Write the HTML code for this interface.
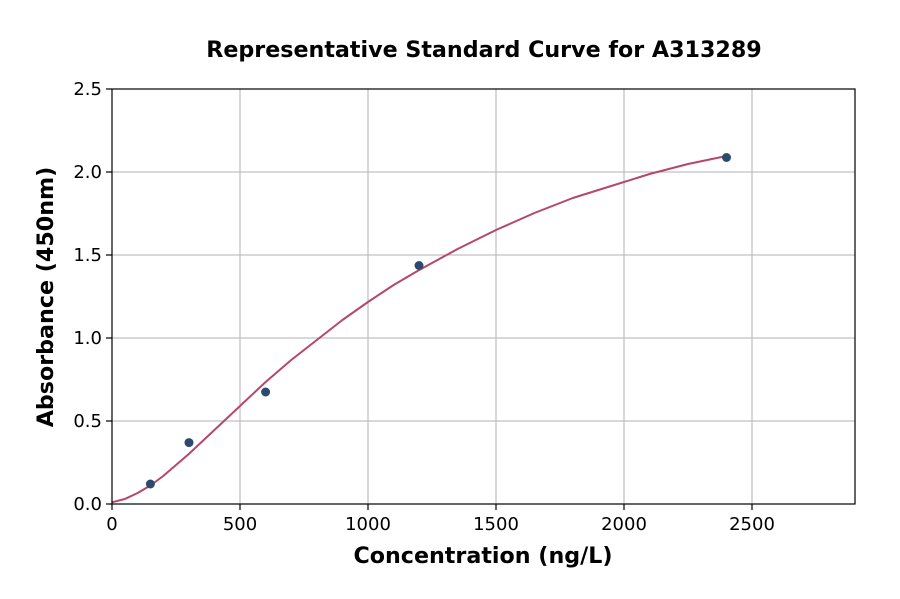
<!DOCTYPE html>
<html><head><style>body{margin:0;background:#fff}</style></head><body>
<svg width="900" height="594" xmlns="http://www.w3.org/2000/svg" font-family="DejaVu Sans, Liberation Sans, sans-serif">
<rect width="900" height="594" fill="#fff"/>
<g stroke="#b0b0b0" stroke-width="1">
<line x1="240" y1="89" x2="240" y2="504"/><line x1="368" y1="89" x2="368" y2="504"/>
<line x1="496" y1="89" x2="496" y2="504"/><line x1="624" y1="89" x2="624" y2="504"/>
<line x1="752" y1="89" x2="752" y2="504"/>
<line x1="112" y1="421" x2="855" y2="421"/><line x1="112" y1="338" x2="855" y2="338"/>
<line x1="112" y1="255" x2="855" y2="255"/><line x1="112" y1="172" x2="855" y2="172"/>
</g>
<polyline fill="none" stroke="#b5476b" stroke-width="2" stroke-linejoin="round" points="112,502.3 124.8,499 137.6,493 150.4,485.5 163.2,476 188.8,454 214.4,430 240,406 265.6,382 291.2,360 316.8,340 342.4,320 368,302 393.6,285 419.2,270 457.6,249 496,230 534.4,213 572.8,198 611.2,186 649.6,174 688,164 726.4,156"/>
<g fill="#2d4a6e">
<circle cx="150.4" cy="484" r="4.5"/><circle cx="189" cy="442.6" r="4.5"/>
<circle cx="265.6" cy="392" r="4.5"/><circle cx="419" cy="265.5" r="4.5"/>
<circle cx="726.5" cy="157.5" r="4.5"/>
</g>
<rect x="112" y="89" width="743" height="415" fill="none" stroke="#000" stroke-width="1.2"/>
<g stroke="#000" stroke-width="1.2">
<line x1="112" y1="504" x2="112" y2="510"/><line x1="240" y1="504" x2="240" y2="510"/>
<line x1="368" y1="504" x2="368" y2="510"/><line x1="496" y1="504" x2="496" y2="510"/>
<line x1="624" y1="504" x2="624" y2="510"/><line x1="752" y1="504" x2="752" y2="510"/>
<line x1="106" y1="504" x2="112" y2="504"/><line x1="106" y1="421" x2="112" y2="421"/>
<line x1="106" y1="338" x2="112" y2="338"/><line x1="106" y1="255" x2="112" y2="255"/>
<line x1="106" y1="172" x2="112" y2="172"/><line x1="106" y1="89" x2="112" y2="89"/>
</g>
<g font-size="18" text-anchor="middle" fill="#000">
<text x="112" y="530">0</text><text x="240" y="530">500</text><text x="368" y="530">1000</text>
<text x="496" y="530">1500</text><text x="624" y="530">2000</text><text x="752" y="530">2500</text>
</g>
<g font-size="18" text-anchor="end" fill="#000">
<text x="102" y="510">0.0</text><text x="102" y="427">0.5</text><text x="102" y="344">1.0</text>
<text x="102" y="261">1.5</text><text x="102" y="178">2.0</text><text x="102" y="95">2.5</text>
</g>
<text x="484" y="57" font-size="22.2" font-weight="bold" text-anchor="middle">Representative Standard Curve for A313289</text>
<text x="483" y="563" font-size="22.2" font-weight="bold" text-anchor="middle">Concentration (ng/L)</text>
<text transform="translate(53,297) rotate(-90)" font-size="22.2" font-weight="bold" text-anchor="middle">Absorbance (450nm)</text>
</svg>
</body></html>
